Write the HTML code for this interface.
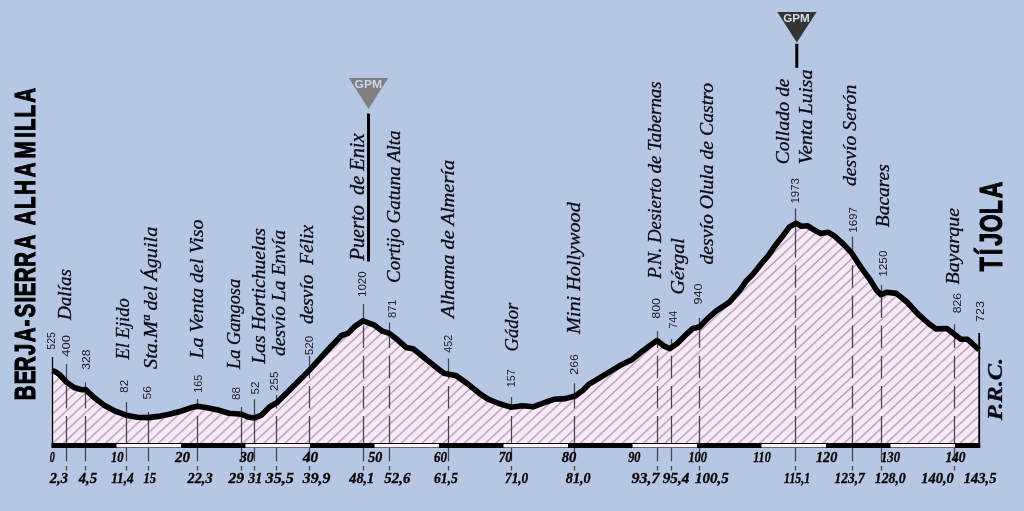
<!DOCTYPE html>
<html lang="es"><head><meta charset="utf-8"><title>Berja-Sierra Alhamilla – Tíjola</title>
<style>html,body{margin:0;padding:0;background:#b5c7e3;overflow:hidden}svg{display:block}
.pl{white-space:pre;font-family:"Liberation Serif","DejaVu Serif",serif;font-style:italic;fill:#0a0a14;stroke:#0a0a14;stroke-width:0.3px}
.al{font-family:"Liberation Sans","DejaVu Sans",sans-serif;font-size:11px;fill:#1a1a22}
.km{font-family:"Liberation Serif","DejaVu Serif",serif;font-style:italic;font-weight:bold;font-size:14.5px;fill:#0a0505;stroke:#0a0505;stroke-width:0.35px}
.ti{font-family:"Liberation Sans","DejaVu Sans",sans-serif;font-weight:bold;fill:#000}
</style></head><body>
<svg width="1024" height="511" viewBox="0 0 1024 511">
<defs><pattern id="h" width="10.55" height="9.85" patternUnits="userSpaceOnUse"><rect width="10.55" height="9.85" fill="#fde6fd"/><path d="M-10.55 18.70L21.10 -10.85M-10.55 8.85L10.55 -10.85M0.00 18.70L21.10 -1.00" stroke="#ffffff" stroke-width="1.1" fill="none" opacity="0.9"/><path d="M-10.55 19.70L21.10 -9.85M-10.55 9.85L10.55 -9.85M0.00 19.70L21.10 0.00" stroke="#a0a0a0" stroke-width="1.3" fill="none"/></pattern></defs>
<rect width="1024" height="511" fill="#b5c7e3"/>
<polygon points="52.5,370.5 55.0,371.5 59.4,374.5 66.5,382.2 74.5,387.8 82.0,389.8 85.7,389.6 93.8,397.3 104.6,405.6 115.4,411.2 126.0,415.2 137.0,417.3 147.7,417.6 158.4,416.4 169.2,414.3 180.0,411.5 190.7,407.8 197.5,406.3 207.2,407.8 218.0,410.0 228.8,413.2 241.7,414.3 248.0,417.0 254.2,418.0 261.0,415.4 269.7,406.8 276.6,402.9 286.9,392.8 297.7,382.0 309.5,370.1 319.2,359.4 330.5,347.0 341.5,335.5 348.0,333.4 355.5,325.8 363.0,320.9 373.8,324.8 382.4,331.2 389.3,333.4 397.5,339.8 406.1,347.4 413.7,349.1 423.4,357.0 434.1,365.7 443.8,373.2 449.2,374.3 455.7,375.4 466.4,382.9 480.5,394.2 488.0,399.2 498.8,403.5 511.2,407.2 522.4,405.7 533.2,406.8 546.1,402.0 554.7,399.2 565.5,398.6 575.2,396.0 582.7,390.6 589.2,384.1 600.0,377.7 610.8,371.2 621.5,364.7 632.3,359.4 643.0,350.7 651.7,344.3 657.0,340.6 664.6,346.4 670.0,348.6 677.5,343.2 686.1,334.6 692.6,328.6 699.5,327.0 707.7,318.4 716.3,310.9 729.2,302.3 740.0,290.0 746.5,280.7 752.9,274.3 761.5,263.5 768.0,256.0 775.5,245.2 783.1,235.5 789.5,226.9 796.0,223.3 801.4,226.3 807.8,225.8 814.3,230.1 820.7,233.4 828.3,232.3 834.7,236.2 843.4,244.1 851.5,252.8 860.6,266.8 869.2,278.6 876.7,290.4 881.0,294.7 886.4,292.2 896.3,293.4 907.0,302.0 917.8,313.8 928.6,323.5 936.1,328.9 946.9,328.5 954.4,334.3 960.9,339.2 967.4,339.2 973.8,345.0 979.2,350.0 979.2,443 52.5,443" fill="url(#h)"/>
<path d="M66.5 364.0V382.1M66.5 385.9V408.4M66.5 416.1V461.3M66.5 466.0V470.5" stroke="#46424e" stroke-width="1.25" fill="none"/>
<path d="M85.5 382.3V389.6M85.5 389.6V408.4M85.5 416.1V461.3M85.5 466.0V470.5" stroke="#46424e" stroke-width="1.25" fill="none"/>
<path d="M126.5 402.0V415.2M126.5 416.1V461.3M126.5 466.0V470.5" stroke="#46424e" stroke-width="1.25" fill="none"/>
<path d="M148.5 412.0V417.5M148.5 417.5V461.3M148.5 466.0V470.5" stroke="#46424e" stroke-width="1.25" fill="none"/>
<path d="M197.5 399.0V406.3M197.5 406.3V408.4M197.5 416.1V461.3M197.5 466.0V470.5" stroke="#46424e" stroke-width="1.25" fill="none"/>
<path d="M241.5 407.0V414.3M241.5 416.1V461.3M241.5 466.0V470.5" stroke="#46424e" stroke-width="1.25" fill="none"/>
<path d="M254.5 399.3V417.9M254.5 417.9V461.3M254.5 466.0V470.5" stroke="#46424e" stroke-width="1.25" fill="none"/>
<path d="M276.5 395.0V403.1M276.5 403.1V408.4M276.5 416.1V461.3M276.5 466.0V470.5" stroke="#46424e" stroke-width="1.25" fill="none"/>
<path d="M309.5 356.0V370.2M309.5 370.2V378.3M309.5 385.9V408.4M309.5 416.1V461.3M309.5 466.0V470.5" stroke="#46424e" stroke-width="1.25" fill="none"/>
<path d="M363.5 304.0V321.0M363.5 325.6V348.1M363.5 355.8V378.3M363.5 385.9V408.4M363.5 416.1V461.3M363.5 466.0V470.5" stroke="#46424e" stroke-width="1.25" fill="none"/>
<path d="M389.5 322.6V333.3M389.5 333.3V348.1M389.5 355.8V378.3M389.5 385.9V408.4M389.5 416.1V461.3M389.5 466.0V470.5" stroke="#46424e" stroke-width="1.25" fill="none"/>
<path d="M448.5 358.6V374.1M448.5 374.1V378.3M448.5 385.9V408.4M448.5 416.1V461.3M448.5 466.0V470.5" stroke="#46424e" stroke-width="1.25" fill="none"/>
<path d="M511.5 397.0V407.2M511.5 407.2V408.4M511.5 416.1V461.3M511.5 466.0V470.5" stroke="#46424e" stroke-width="1.25" fill="none"/>
<path d="M574.5 383.2V396.2M574.5 396.2V408.4M574.5 416.1V461.3M574.5 466.0V470.5" stroke="#46424e" stroke-width="1.25" fill="none"/>
<path d="M657.5 331.0V340.9M657.5 340.9V348.1M657.5 355.8V378.3M657.5 385.9V408.4M657.5 416.1V461.3M657.5 466.0V470.5" stroke="#46424e" stroke-width="1.25" fill="none"/>
<path d="M671.5 339.0V347.9M671.5 347.9V348.1M671.5 355.8V378.3M671.5 385.9V408.4M671.5 416.1V461.3M671.5 466.0V470.5" stroke="#46424e" stroke-width="1.25" fill="none"/>
<path d="M699.5 318.0V327.0M699.5 327.0V348.1M699.5 355.8V378.3M699.5 385.9V408.4M699.5 416.1V461.3M699.5 466.0V470.5" stroke="#46424e" stroke-width="1.25" fill="none"/>
<path d="M795.5 208.6V223.4M795.5 223.4V257.7M795.5 265.3V287.8M795.5 295.4V318.0M795.5 325.6V348.1M795.5 355.8V378.3M795.5 385.9V408.4M795.5 416.1V461.3M795.5 466.0V470.5" stroke="#46424e" stroke-width="1.25" fill="none"/>
<path d="M852.5 236.6V253.6M852.5 253.6V257.7M852.5 265.3V287.8M852.5 295.4V318.0M852.5 325.6V348.1M852.5 355.8V378.3M852.5 385.9V408.4M852.5 416.1V461.3M852.5 466.0V470.5" stroke="#46424e" stroke-width="1.25" fill="none"/>
<path d="M881.5 285.0V294.7M881.5 295.4V318.0M881.5 325.6V348.1M881.5 355.8V378.3M881.5 385.9V408.4M881.5 416.1V461.3M881.5 466.0V470.5" stroke="#46424e" stroke-width="1.25" fill="none"/>
<path d="M954.5 324.2V334.3M954.5 334.3V348.1M954.5 355.8V378.3M954.5 385.9V408.4M954.5 416.1V461.3M954.5 466.0V470.5" stroke="#46424e" stroke-width="1.25" fill="none"/>
<line x1="52.5" y1="357" x2="52.5" y2="448" stroke="#000" stroke-width="1.3"/>
<line x1="979.2" y1="333" x2="979.2" y2="448" stroke="#000" stroke-width="1.8"/>
<polyline points="52.5,370.5 55.0,371.5 59.4,374.5 66.5,382.2 74.5,387.8 82.0,389.8 85.7,389.6 93.8,397.3 104.6,405.6 115.4,411.2 126.0,415.2 137.0,417.3 147.7,417.6 158.4,416.4 169.2,414.3 180.0,411.5 190.7,407.8 197.5,406.3 207.2,407.8 218.0,410.0 228.8,413.2 241.7,414.3 248.0,417.0 254.2,418.0 261.0,415.4 269.7,406.8 276.6,402.9 286.9,392.8 297.7,382.0 309.5,370.1 319.2,359.4 330.5,347.0 341.5,335.5 348.0,333.4 355.5,325.8 363.0,320.9 373.8,324.8 382.4,331.2 389.3,333.4 397.5,339.8 406.1,347.4 413.7,349.1 423.4,357.0 434.1,365.7 443.8,373.2 449.2,374.3 455.7,375.4 466.4,382.9 480.5,394.2 488.0,399.2 498.8,403.5 511.2,407.2 522.4,405.7 533.2,406.8 546.1,402.0 554.7,399.2 565.5,398.6 575.2,396.0 582.7,390.6 589.2,384.1 600.0,377.7 610.8,371.2 621.5,364.7 632.3,359.4 643.0,350.7 651.7,344.3 657.0,340.6 664.6,346.4 670.0,348.6 677.5,343.2 686.1,334.6 692.6,328.6 699.5,327.0 707.7,318.4 716.3,310.9 729.2,302.3 740.0,290.0 746.5,280.7 752.9,274.3 761.5,263.5 768.0,256.0 775.5,245.2 783.1,235.5 789.5,226.9 796.0,223.3 801.4,226.3 807.8,225.8 814.3,230.1 820.7,233.4 828.3,232.3 834.7,236.2 843.4,244.1 851.5,252.8 860.6,266.8 869.2,278.6 876.7,290.4 881.0,294.7 886.4,292.2 896.3,293.4 907.0,302.0 917.8,313.8 928.6,323.5 936.1,328.9 946.9,328.5 954.4,334.3 960.9,339.2 967.4,339.2 973.8,345.0 979.2,350.0" fill="none" stroke="#000" stroke-width="5.6" stroke-linejoin="round" stroke-linecap="butt"/>
<rect x="51.5" y="443" width="928.7" height="5" fill="#000"/>
<rect x="116.5" y="444.0" width="64.5" height="3.4" fill="#fdf2fb"/>
<rect x="245.5" y="444.0" width="64.5" height="3.4" fill="#fdf2fb"/>
<rect x="374.5" y="444.0" width="64.5" height="3.4" fill="#fdf2fb"/>
<rect x="503.5" y="444.0" width="64.5" height="3.4" fill="#fdf2fb"/>
<rect x="632.5" y="444.0" width="64.5" height="3.4" fill="#fdf2fb"/>
<rect x="761.5" y="444.0" width="64.5" height="3.4" fill="#fdf2fb"/>
<rect x="890.5" y="444.0" width="64.5" height="3.4" fill="#fdf2fb"/>
<polygon points="348.9,78 388.2,78 368.5,109" fill="#7f7f7f"/>
<text x="354.6" y="87.5" class="ti" style="font-size:11px;fill:#cdd6e8" textLength="27.6" lengthAdjust="spacingAndGlyphs">GPM</text>
<rect x="367" y="113.6" width="3" height="148" fill="#000"/>
<polygon points="777.3,12 816.6,12 796.8,42.5" fill="#353535"/>
<text x="783.2" y="21.8" class="ti" style="font-size:11px;fill:#d6deec" textLength="26.6" lengthAdjust="spacingAndGlyphs">GPM</text>
<rect x="795.3" y="43.8" width="3" height="24" fill="#000"/>
<text class="ti" style="font-size:29px;stroke:#000;stroke-width:1.1px" transform="translate(35.2,399.3) rotate(-90) scale(0.71,1)" x="-1.4 21.1 39.5 61.9 80.4 102.4 115.1 136.4 145.3 164.8 186.8 211.1 233.1 245.1 268.0 288.2 312.9 339.1 368.5 378.0 396.9 417.6">BERJA-SIERRA ALHAMILLA</text>
<text class="ti" style="font-size:32px;stroke:#000;stroke-width:1.1px" transform="translate(1002.0,271.3) rotate(-90) scale(0.72,1)" x="-0.1 22.5 35.4 54.3 79.2 101.5">TÍJOLA</text>
<text class="pl" style="font-size:20px;font-weight:bold" transform="translate(1001.7,420.3) rotate(-90)" textLength="62.5" lengthAdjust="spacingAndGlyphs">P.R.C.</text>
<text class="pl" style="font-size:19.5px" transform="translate(71.0,320.0) rotate(-90)" textLength="51.0" lengthAdjust="spacingAndGlyphs">Dalías</text>
<text class="pl" style="font-size:19.5px" transform="translate(129.0,359.5) rotate(-90)" textLength="61.2" lengthAdjust="spacingAndGlyphs">El Ejido</text>
<text class="pl" style="font-size:19.5px" transform="translate(157.0,369.0) rotate(-90)" textLength="142.3" lengthAdjust="spacingAndGlyphs">Sta.Mª del Águila</text>
<text class="pl" style="font-size:19.5px" transform="translate(202.5,358.6) rotate(-90)" textLength="139.2" lengthAdjust="spacingAndGlyphs">La Venta del Viso</text>
<text class="pl" style="font-size:19.5px" transform="translate(239.5,369.0) rotate(-90)" textLength="90.1" lengthAdjust="spacingAndGlyphs">La Gangosa</text>
<text class="pl" style="font-size:19.5px" transform="translate(264.5,363.8) rotate(-90)" textLength="135.8" lengthAdjust="spacingAndGlyphs">Las Hortichuelas</text>
<text class="pl" style="font-size:19.5px" transform="translate(284.5,356.0) rotate(-90)" textLength="126.0" lengthAdjust="spacingAndGlyphs">desvío La Envía</text>
<text class="pl" style="font-size:19.5px" transform="translate(312.5,324.0) rotate(-90)" textLength="99.0" lengthAdjust="spacingAndGlyphs">desvío  Félix</text>
<text class="pl" style="font-size:21px" transform="translate(364.0,260.5) rotate(-90)" textLength="127.0" lengthAdjust="spacingAndGlyphs">Puerto  de Enix</text>
<text class="pl" style="font-size:19.5px" transform="translate(400.0,283.0) rotate(-90)" textLength="152.6" lengthAdjust="spacingAndGlyphs">Cortijo Gatuna Alta</text>
<text class="pl" style="font-size:19.5px" transform="translate(454.0,318.0) rotate(-90)" textLength="158.2" lengthAdjust="spacingAndGlyphs">Alhama de Almería</text>
<text class="pl" style="font-size:19.5px" transform="translate(518.0,351.4) rotate(-90)" textLength="48.6" lengthAdjust="spacingAndGlyphs">Gádor</text>
<text class="pl" style="font-size:19.5px" transform="translate(579.8,334.0) rotate(-90)" textLength="131.8" lengthAdjust="spacingAndGlyphs">Mini Hollywood</text>
<text class="pl" style="font-size:19.5px" transform="translate(661.0,278.8) rotate(-90)" textLength="197.4" lengthAdjust="spacingAndGlyphs">P.N. Desierto de Tabernas</text>
<text class="pl" style="font-size:19.5px" transform="translate(684.0,294.5) rotate(-90)" textLength="56.3" lengthAdjust="spacingAndGlyphs">Gérgal</text>
<text class="pl" style="font-size:19.5px" transform="translate(712.5,264.6) rotate(-90)" textLength="181.6" lengthAdjust="spacingAndGlyphs">desvío Olula de Castro</text>
<text class="pl" style="font-size:19.5px" transform="translate(789.0,164.3) rotate(-90)" textLength="85.8" lengthAdjust="spacingAndGlyphs">Collado de</text>
<text class="pl" style="font-size:19.5px" transform="translate(812.0,164.3) rotate(-90)" textLength="94.8" lengthAdjust="spacingAndGlyphs">Venta Luisa</text>
<text class="pl" style="font-size:19.5px" transform="translate(856.0,186.0) rotate(-90)" textLength="101.3" lengthAdjust="spacingAndGlyphs">desvío Serón</text>
<text class="pl" style="font-size:19.5px" transform="translate(889.0,227.2) rotate(-90)" textLength="63.0" lengthAdjust="spacingAndGlyphs">Bacares</text>
<text class="pl" style="font-size:19.5px" transform="translate(958.5,284.5) rotate(-90)" textLength="76.5" lengthAdjust="spacingAndGlyphs">Bayarque</text>
<text class="al" transform="translate(55.4,349.7) rotate(-90)" textLength="17.7" lengthAdjust="spacingAndGlyphs">525</text>
<text class="al" transform="translate(70.0,356.8) rotate(-90)" textLength="21.8" lengthAdjust="spacingAndGlyphs">400</text>
<text class="al" transform="translate(90.1,369.7) rotate(-90)" textLength="20.0" lengthAdjust="spacingAndGlyphs">328</text>
<text class="al" transform="translate(128.4,392.7) rotate(-90)" textLength="12.7" lengthAdjust="spacingAndGlyphs">82</text>
<text class="al" transform="translate(151.2,399.6) rotate(-90)" textLength="13.6" lengthAdjust="spacingAndGlyphs">56</text>
<text class="al" transform="translate(202.1,392.7) rotate(-90)" textLength="18.1" lengthAdjust="spacingAndGlyphs">165</text>
<text class="al" transform="translate(240.1,400.0) rotate(-90)" textLength="13.0" lengthAdjust="spacingAndGlyphs">88</text>
<text class="al" transform="translate(259.0,394.5) rotate(-90)" textLength="13.0" lengthAdjust="spacingAndGlyphs">52</text>
<text class="al" transform="translate(277.5,391.0) rotate(-90)" textLength="19.5" lengthAdjust="spacingAndGlyphs">255</text>
<text class="al" transform="translate(312.8,355.2) rotate(-90)" textLength="19.4" lengthAdjust="spacingAndGlyphs">520</text>
<text class="al" transform="translate(366.0,297.0) rotate(-90)" textLength="25.7" lengthAdjust="spacingAndGlyphs">1020</text>
<text class="al" transform="translate(395.7,318.0) rotate(-90)" textLength="18.5" lengthAdjust="spacingAndGlyphs">871</text>
<text class="al" transform="translate(452.2,352.7) rotate(-90)" textLength="17.9" lengthAdjust="spacingAndGlyphs">452</text>
<text class="al" transform="translate(514.8,387.3) rotate(-90)" textLength="17.9" lengthAdjust="spacingAndGlyphs">157</text>
<text class="al" transform="translate(578.0,374.7) rotate(-90)" textLength="20.7" lengthAdjust="spacingAndGlyphs">266</text>
<text class="al" transform="translate(659.6,318.7) rotate(-90)" textLength="20.7" lengthAdjust="spacingAndGlyphs">800</text>
<text class="al" transform="translate(676.6,328.6) rotate(-90)" textLength="17.6" lengthAdjust="spacingAndGlyphs">744</text>
<text class="al" transform="translate(702.2,304.6) rotate(-90)" textLength="21.1" lengthAdjust="spacingAndGlyphs">940</text>
<text class="al" transform="translate(799.4,203.5) rotate(-90)" textLength="25.5" lengthAdjust="spacingAndGlyphs">1973</text>
<text class="al" transform="translate(856.7,232.7) rotate(-90)" textLength="25.7" lengthAdjust="spacingAndGlyphs">1697</text>
<text class="al" transform="translate(886.8,276.8) rotate(-90)" textLength="26.3" lengthAdjust="spacingAndGlyphs">1250</text>
<text class="al" transform="translate(960.8,313.3) rotate(-90)" textLength="20.3" lengthAdjust="spacingAndGlyphs">826</text>
<text class="al" transform="translate(983.8,322.0) rotate(-90)" textLength="21.0" lengthAdjust="spacingAndGlyphs">723</text>
<text class="km" x="49.8" y="462.3" textLength="5.0" lengthAdjust="spacingAndGlyphs">0</text>
<text class="km" x="111.0" y="462.3" textLength="12.5" lengthAdjust="spacingAndGlyphs">10</text>
<text class="km" x="175.0" y="462.3" textLength="15.0" lengthAdjust="spacingAndGlyphs">20</text>
<text class="km" x="239.7" y="462.3" textLength="14.3" lengthAdjust="spacingAndGlyphs">30</text>
<text class="km" x="302.8" y="462.3" textLength="15.2" lengthAdjust="spacingAndGlyphs">40</text>
<text class="km" x="368.2" y="462.3" textLength="14.0" lengthAdjust="spacingAndGlyphs">50</text>
<text class="km" x="434.0" y="462.3" textLength="13.0" lengthAdjust="spacingAndGlyphs">60</text>
<text class="km" x="498.7" y="462.3" textLength="13.3" lengthAdjust="spacingAndGlyphs">70</text>
<text class="km" x="561.8" y="462.3" textLength="14.6" lengthAdjust="spacingAndGlyphs">80</text>
<text class="km" x="628.2" y="462.3" textLength="12.3" lengthAdjust="spacingAndGlyphs">90</text>
<text class="km" x="688.4" y="462.3" textLength="18.5" lengthAdjust="spacingAndGlyphs">100</text>
<text class="km" x="753.2" y="462.3" textLength="17.5" lengthAdjust="spacingAndGlyphs">110</text>
<text class="km" x="816.0" y="462.3" textLength="21.2" lengthAdjust="spacingAndGlyphs">120</text>
<text class="km" x="880.9" y="462.3" textLength="19.1" lengthAdjust="spacingAndGlyphs">130</text>
<text class="km" x="945.4" y="462.3" textLength="20.1" lengthAdjust="spacingAndGlyphs">140</text>
<text class="km" x="49.8" y="482.6" textLength="18.2" lengthAdjust="spacingAndGlyphs">2,3</text>
<text class="km" x="78.7" y="482.6" textLength="18.3" lengthAdjust="spacingAndGlyphs">4,5</text>
<text class="km" x="111.2" y="482.6" textLength="22.6" lengthAdjust="spacingAndGlyphs">11,4</text>
<text class="km" x="143.4" y="482.6" textLength="12.6" lengthAdjust="spacingAndGlyphs">15</text>
<text class="km" x="187.6" y="482.6" textLength="24.9" lengthAdjust="spacingAndGlyphs">22,3</text>
<text class="km" x="228.4" y="482.6" textLength="15.6" lengthAdjust="spacingAndGlyphs">29</text>
<text class="km" x="248.3" y="482.6" textLength="14.0" lengthAdjust="spacingAndGlyphs">31</text>
<text class="km" x="265.6" y="482.6" textLength="28.2" lengthAdjust="spacingAndGlyphs">35,5</text>
<text class="km" x="302.8" y="482.6" textLength="27.5" lengthAdjust="spacingAndGlyphs">39,9</text>
<text class="km" x="349.3" y="482.6" textLength="24.9" lengthAdjust="spacingAndGlyphs">48,1</text>
<text class="km" x="384.2" y="482.6" textLength="26.2" lengthAdjust="spacingAndGlyphs">52,6</text>
<text class="km" x="434.0" y="482.6" textLength="23.9" lengthAdjust="spacingAndGlyphs">61,5</text>
<text class="km" x="505.0" y="482.6" textLength="23.2" lengthAdjust="spacingAndGlyphs">71,0</text>
<text class="km" x="565.8" y="482.6" textLength="24.9" lengthAdjust="spacingAndGlyphs">81,0</text>
<text class="km" x="631.5" y="482.6" textLength="27.9" lengthAdjust="spacingAndGlyphs">93,7</text>
<text class="km" x="662.7" y="482.6" textLength="26.7" lengthAdjust="spacingAndGlyphs">95,4</text>
<text class="km" x="695.1" y="482.6" textLength="33.6" lengthAdjust="spacingAndGlyphs">100,5</text>
<text class="km" x="784.1" y="482.6" textLength="26.2" lengthAdjust="spacingAndGlyphs">115,1</text>
<text class="km" x="834.5" y="482.6" textLength="30.2" lengthAdjust="spacingAndGlyphs">123,7</text>
<text class="km" x="874.8" y="482.6" textLength="30.9" lengthAdjust="spacingAndGlyphs">128,0</text>
<text class="km" x="921.2" y="482.6" textLength="32.6" lengthAdjust="spacingAndGlyphs">140,0</text>
<text class="km" x="963.8" y="482.6" textLength="32.6" lengthAdjust="spacingAndGlyphs">143,5</text>
</svg></body></html>
